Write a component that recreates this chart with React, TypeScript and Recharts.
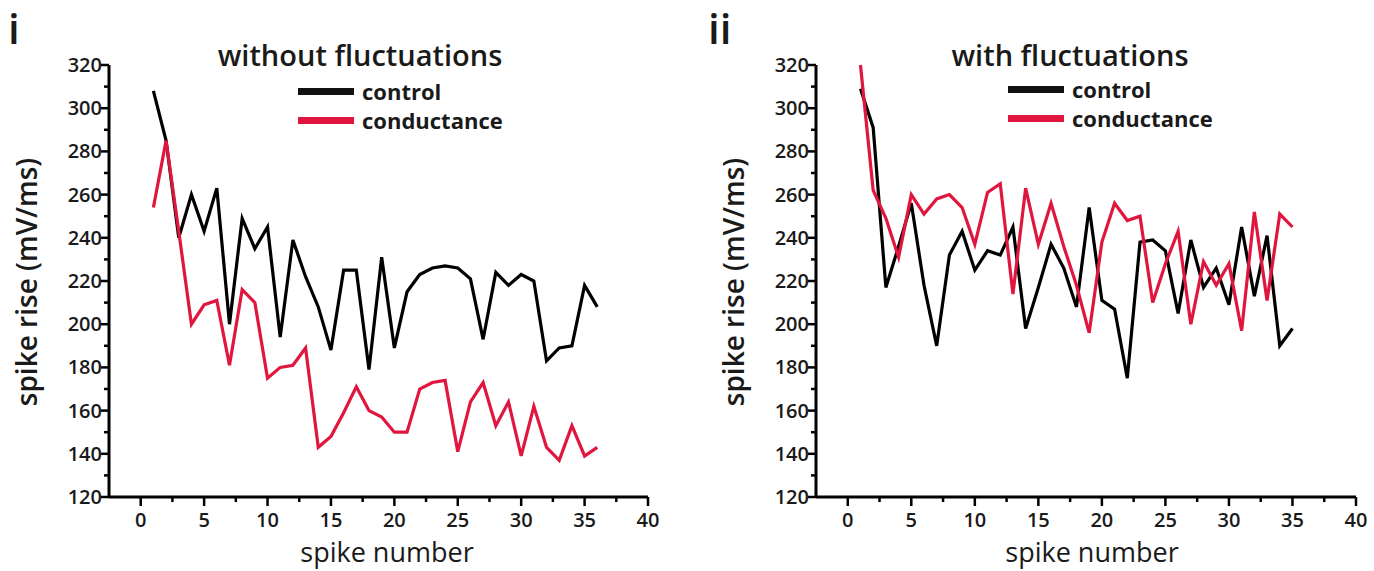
import React from 'react';
import { LineChart, Line, XAxis, YAxis } from 'recharts';

// ---------- data ----------
const spikeNumbersI = [1, 2, 3, 4, 5, 6, 7, 8, 9, 10, 11, 12, 13, 14, 15, 16, 17, 18, 19, 20, 21, 22, 23, 24, 25, 26, 27, 28, 29, 30, 31, 32, 33, 34, 35, 36];
const controlI = [308, 285, 240, 260, 243, 263, 200, 249, 235, 245, 194, 239, 222, 208, 188, 225, 225, 179, 231, 189, 215, 223, 226, 227, 226, 221, 193, 224, 218, 223, 220, 183, 189, 190, 218, 208];
const conductanceI = [254, 285, 243, 200, 209, 211, 181, 216, 210, 175, 180, 181, 189, 143, 148, 159, 171, 160, 157, 150, 150, 170, 173, 174, 141, 164, 173, 153, 164, 139, 162, 143, 137, 153, 139, 143];

const spikeNumbersII = [1, 2, 3, 4, 5, 6, 7, 8, 9, 10, 11, 12, 13, 14, 15, 16, 17, 18, 19, 20, 21, 22, 23, 24, 25, 26, 27, 28, 29, 30, 31, 32, 33, 34, 35];
const controlII = [309, 291, 217, 236, 256, 218, 190, 232, 243, 225, 234, 232, 245, 198, 217, 237, 226, 208, 254, 211, 207, 175, 238, 239, 234, 205, 239, 217, 226, 209, 245, 213, 241, 190, 198];
const conductanceII = [320, 262, 249, 231, 260, 251, 258, 260, 254, 237, 261, 265, 214, 263, 237, 256, 236, 218, 196, 238, 256, 248, 250, 210, 228, 243, 200, 229, 218, 228, 197, 252, 211, 251, 245];

const xTicks = [0, 2.5, 5, 7.5, 10, 12.5, 15, 17.5, 20, 22.5, 25, 27.5, 30, 32.5, 35, 37.5, 40];
const yTicks = [120, 130, 140, 150, 160, 170, 180, 190, 200, 210, 220, 230, 240, 250, 260, 270, 280, 290, 300, 310, 320];
const seriesNames = ['control', 'conductance'];

const buildRows = (ns: number[], a: number[], b: number[]) =>
  ns.map((n, i) => ({ n, control: a[i], conductance: b[i] }));

const dataI = buildRows(spikeNumbersI, controlI, conductanceI);
const dataII = buildRows(spikeNumbersII, controlII, conductanceII);

// ---------- styles ----------
const FONT = '"Open Sans", "DejaVu Sans", sans-serif';
const RED = '#e0163f';
const BLACK = '#000000';
const TXT = '#1a1a1a';

const XTick = (props: any) => {
  const { x, y, payload } = props;
  const v = payload.value;
  const major = v % 5 === 0;
  return (
    <g>
      <line x1={x} x2={x} y1={y} y2={y + (major ? 9 : 5)} stroke={BLACK} strokeWidth={2.5} />
      {major && (
        <text x={x} y={y + 30} textAnchor="middle" fontFamily={FONT} fontSize={20} fontWeight={600} fill={TXT}>
          {v}
        </text>
      )}
    </g>
  );
};

const YTick = (props: any) => {
  const { x, y, payload } = props;
  const v = payload.value;
  const major = v % 20 === 0;
  return (
    <g>
      <line x1={x - (major ? 8 : 5)} x2={x} y1={y} y2={y} stroke={BLACK} strokeWidth={2.5} />
      {major && (
        <text x={x - 7} y={y + 7} textAnchor="end" fontFamily={FONT} fontSize={20} fontWeight={600} fill={TXT}>
          {v}
        </text>
      )}
    </g>
  );
};

type PanelProps = {
  data: any[];
  width: number;
  yAxisWidth: number;
  marginRight: number;
  title: string;
  titleX: number;
  panelLabel: string;
  yLabelX: number;
  xLabelX: number;
  legendLeft: number;
  legendTop: number;
};

const LegendBlock = ({ left, top }: { left: number; top: number }) => (
  <div style={{ position: 'absolute', left, top, fontFamily: FONT }}>
    {seriesNames.map((name, i) => (
      <div key={name} style={{ display: 'flex', alignItems: 'center', height: 29, overflow: 'visible' }}>
        <span
          style={{
            display: 'inline-block',
            width: 56,
            height: 7,
            background: i === 0 ? '#111' : RED,
            marginRight: 8,
          }}
        />
        <span style={{ fontSize: 22, fontWeight: 700, color: TXT, lineHeight: '29px' }}>{name}</span>
      </div>
    ))}
  </div>
);

const Panel = (p: PanelProps) => {
  const H = 571;
  return (
    <div style={{ position: 'relative', width: p.width, height: H }}>
      <LineChart
        width={p.width}
        height={H}
        data={p.data}
        margin={{ top: 65, right: p.marginRight, bottom: 0, left: 0 }}
      >
        <XAxis
          dataKey="n"
          type="number"
          domain={[-2.5, 40]}
          ticks={xTicks}
          interval={0}
          height={74}
          tickLine={false}
          tickSize={0}
          tickMargin={0}
          tick={<XTick />}
          axisLine={{ stroke: BLACK, strokeWidth: 3 }}
          label={{
            value: 'spike number',
            content: () => (
              <text x={p.xLabelX} y={562} textAnchor="middle" fontFamily={FONT} fontSize={27} fontWeight={500} fill={TXT}>
                spike number
              </text>
            ),
          }}
        />
        <YAxis
          type="number"
          domain={[120, 320]}
          ticks={yTicks}
          interval={0}
          width={p.yAxisWidth}
          tickLine={false}
          tickSize={0}
          tickMargin={0}
          tick={<YTick />}
          axisLine={{ stroke: BLACK, strokeWidth: 3 }}
          label={{
            value: 'spike rise (mV/ms)',
            content: () => (
              <text
                x={p.yLabelX}
                y={282}
                textAnchor="middle"
                dominantBaseline="central"
                transform={`rotate(-90, ${p.yLabelX}, 282)`}
                fontFamily={FONT}
                fontSize={28}
                fontWeight={600}
                fill={TXT}
              >
                spike rise (mV/ms)
              </text>
            ),
          }}
        />
        <Line
          dataKey="control"
          name="control"
          stroke={BLACK}
          strokeWidth={3.2}
          dot={false}
          isAnimationActive={false}
          strokeLinejoin="miter"
        />
        <Line
          dataKey="conductance"
          name="conductance"
          stroke={RED}
          strokeWidth={3.2}
          dot={false}
          isAnimationActive={false}
          strokeLinejoin="miter"
        />
      </LineChart>
      <LegendBlock left={p.legendLeft} top={p.legendTop} />
      <div
        style={{
          position: 'absolute',
          left: 8,
          top: 4,
          fontFamily: FONT,
          fontSize: 42,
          fontWeight: 600,
          color: TXT,
          lineHeight: '48px',
        }}
      >
        {p.panelLabel}
      </div>
      <div
        style={{
          position: 'absolute',
          left: p.titleX - 250,
          width: 500,
          top: 38,
          textAlign: 'center',
          fontFamily: FONT,
          fontSize: 29,
          fontWeight: 600,
          color: TXT,
          lineHeight: '34px',
        }}
      >
        {p.title}
      </div>
    </div>
  );
};

export default function App() {
  return (
    <div style={{ position: 'absolute', left: 0, top: 0, width: 1374, height: 571, background: '#fff', overflow: 'hidden' }}>
      <div style={{ position: 'absolute', left: 0, top: 0 }}>
        <Panel
          data={dataI}
          width={700}
          yAxisWidth={109}
          marginRight={52}
          title="without fluctuations"
          titleX={360}
          panelLabel="i"
          yLabelX={26}
          xLabelX={387}
          legendLeft={298}
          legendTop={77}
        />
      </div>
      <div style={{ position: 'absolute', left: 700, top: 0 }}>
        <Panel
          data={dataII}
          width={674}
          yAxisWidth={116}
          marginRight={18}
          title="with fluctuations"
          titleX={370}
          panelLabel="ii"
          yLabelX={33}
          xLabelX={392}
          legendLeft={308}
          legendTop={75}
        />
      </div>
    </div>
  );
}
